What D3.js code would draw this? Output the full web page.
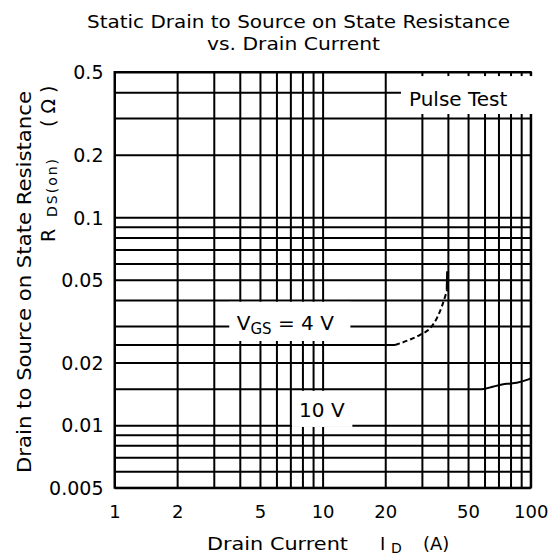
<!DOCTYPE html>
<html>
<head>
<meta charset="utf-8">
<script src="https://cdn.jsdelivr.net/npm/d3@7"></script>
<style>
  html, body { margin: 0; padding: 0; background: #fff; }
  svg { display: block; }
  text { font-family: "DejaVu Sans", sans-serif; fill: #000; }
</style>
</head>
<body>
<script>
// ---------- data ----------
const titleLines = ["Static Drain to Source on State Resistance", "vs. Drain Current"];
const xTickValues = [1, 2, 5, 10, 20, 50, 100];
const xTickLabels = ["1", "2", "5", "10", "20", "50", "100"];
const yTickValues = [0.005, 0.01, 0.02, 0.05, 0.1, 0.2, 0.5];
const yTickLabels = ["0.005", "0.01", "0.02", "0.05", "0.1", "0.2", "0.5"];

// V_GS = 4 V curve (A, ohm)
const vgs4Current = [1, 22.3, 26.3, 29.4, 32.9, 35.4, 37.4, 38.8, 39.7];
const vgs4Resist  = [0.0243, 0.0243, 0.0258, 0.0272, 0.0293, 0.0327, 0.0372, 0.0416, 0.0448];
const vgs4TailCurrent = [39.7, 39.9];
const vgs4TailResist  = [0.0448, 0.0550];

// V_GS = 10 V curve
const vgs10Current = [1, 58.3, 66.3, 76.8, 85.8, 95.9, 100];
const vgs10Resist  = [0.0149, 0.0149, 0.01535, 0.0158, 0.0160, 0.0165, 0.0168];

// ---------- layout ----------
const W = 557, H = 559;
const pL = 114.5, pR = 530.7, pT = 72, pB = 487.7;

const svg = d3.select("body").append("svg").attr("width", W).attr("height", H);

const x = d3.scaleLog().domain([1, 100]).range([pL, pR]);
const y = d3.scaleLog().domain([0.005, 0.5]).range([pB, pT]);

// grid
const gx = svg.append("g").attr("transform", `translate(0,${pB})`)
  .call(d3.axisBottom(x).tickValues(x.ticks()).tickSize(-(pB - pT)).tickFormat(""));
const gy = svg.append("g").attr("transform", `translate(${pL},0)`)
  .call(d3.axisLeft(y).tickValues(y.ticks()).tickSize(-(pR - pL)).tickFormat(""));
[gx, gy].forEach(g => {
  g.select(".domain").remove();
  g.selectAll(".tick line").attr("stroke", "#000").attr("stroke-width", 2);
});

// frame
svg.append("rect").attr("x", pL).attr("y", pT)
  .attr("width", pR - pL).attr("height", pB - pT)
  .attr("fill", "none").attr("stroke", "#000").attr("stroke-width", 2);

// white label boxes (data coordinates)
const boxes = [
  { i0: 23.8, i1: 100, r0: 0.314, r1: 0.478, extra: 3 },
  { i0: 3.56, i1: 13.6, r0: 0.0254, r1: 0.0392, extra: 0 },
  { i0: 7.13, i1: 13.9, r0: 0.0098, r1: 0.01463, extra: 0 }
];
svg.selectAll("rect.box").data(boxes).enter().append("rect")
  .attr("class", "box")
  .attr("x", d => x(d.i0)).attr("y", d => y(d.r1))
  .attr("width", d => x(d.i1) - x(d.i0) + d.extra)
  .attr("height", d => y(d.r0) - y(d.r1))
  .attr("fill", "#fff");

// curves
const lineLin = d3.line().x(d => x(d[0])).y(d => y(d[1]));
const lineMono = d3.line().x(d => x(d[0])).y(d => y(d[1])).curve(d3.curveMonotoneX);
const v4 = vgs4Current.map((c, i) => [c, vgs4Resist[i]]);
svg.append("path").attr("d", lineLin(v4.slice(0, 2)))
  .attr("fill", "none").attr("stroke", "#000").attr("stroke-width", 2);
svg.append("path").attr("d", lineMono(v4.slice(1)))
  .attr("fill", "none").attr("stroke", "#000").attr("stroke-width", 2)
  .attr("stroke-dasharray", "5,3");
svg.append("path").attr("d", lineLin(vgs4TailCurrent.map((c, i) => [c, vgs4TailResist[i]])))
  .attr("fill", "none").attr("stroke", "#000").attr("stroke-width", 3);
svg.append("path").attr("d", lineMono(vgs10Current.map((c, i) => [c, vgs10Resist[i]])))
  .attr("fill", "none").attr("stroke", "#000").attr("stroke-width", 2);

// axes labels
const ax = svg.append("g").attr("transform", `translate(0,${pB})`)
  .call(d3.axisBottom(x).tickValues(xTickValues).tickSize(0).tickPadding(0)
    .tickFormat((d, i) => xTickLabels[i]));
ax.select(".domain").remove();
ax.selectAll("text").attr("font-size", 18).attr("font-family", "DejaVu Sans").attr("dy", 0).attr("y", 30);

const ay = svg.append("g").attr("transform", `translate(${pL},0)`)
  .call(d3.axisLeft(y).tickValues(yTickValues).tickSize(0).tickPadding(11)
    .tickFormat((d, i) => yTickLabels[i]));
ay.select(".domain").remove();
ay.selectAll("text").attr("font-size", 19).attr("font-family", "DejaVu Sans").attr("dy", "0.36em");

// title
svg.append("text").attr("x", 87).attr("y", 28)
  .attr("font-size", 17.5).attr("textLength", 423).attr("lengthAdjust", "spacingAndGlyphs")
  .text(titleLines[0]);
svg.append("text").attr("x", 207).attr("y", 50)
  .attr("font-size", 17.5).attr("textLength", 173).attr("lengthAdjust", "spacingAndGlyphs")
  .text(titleLines[1]);

// x label
const xl = svg.append("text").attr("y", 550).attr("font-size", 18);
xl.append("tspan").attr("x", 207).attr("textLength", 141).attr("lengthAdjust", "spacingAndGlyphs").text("Drain Current");
xl.append("tspan").attr("x", 380).text("I");
xl.append("tspan").attr("x", 391).attr("dy", 3).attr("font-size", 14).text("D");
xl.append("tspan").attr("x", 423).attr("dy", -3).text("(A)");

// y label
svg.append("text").attr("transform", "translate(31,282) rotate(-90)")
  .attr("text-anchor", "middle").attr("font-size", 19)
  .attr("textLength", 382).attr("lengthAdjust", "spacingAndGlyphs")
  .text("Drain to Source on State Resistance");
const yl = svg.append("text").attr("transform", "translate(55,242) rotate(-90)").attr("font-size", 19);
yl.append("tspan").attr("x", 0).text("R");
yl.append("tspan").attr("x", 25).attr("dy", 2).attr("font-size", 14).attr("letter-spacing", 2).text("DS(on)");
yl.append("tspan").attr("x", 115).attr("dy", -2).text("( Ω )");

// annotations
svg.append("text").attr("x", x(26)).attr("y", y(0.343)).attr("font-size", 20).text("Pulse Test");
const a4 = svg.append("text").attr("x", x(3.87)).attr("y", y(0.0287)).attr("font-size", 20);
a4.append("tspan").text("V");
a4.append("tspan").attr("dy", 4).attr("font-size", 15).text("GS");
a4.append("tspan").attr("dy", -4).text(" = 4 V");
svg.append("text").attr("x", x(7.71)).attr("y", y(0.0109)).attr("font-size", 20).text("10 V");
</script>
</body>
</html>
